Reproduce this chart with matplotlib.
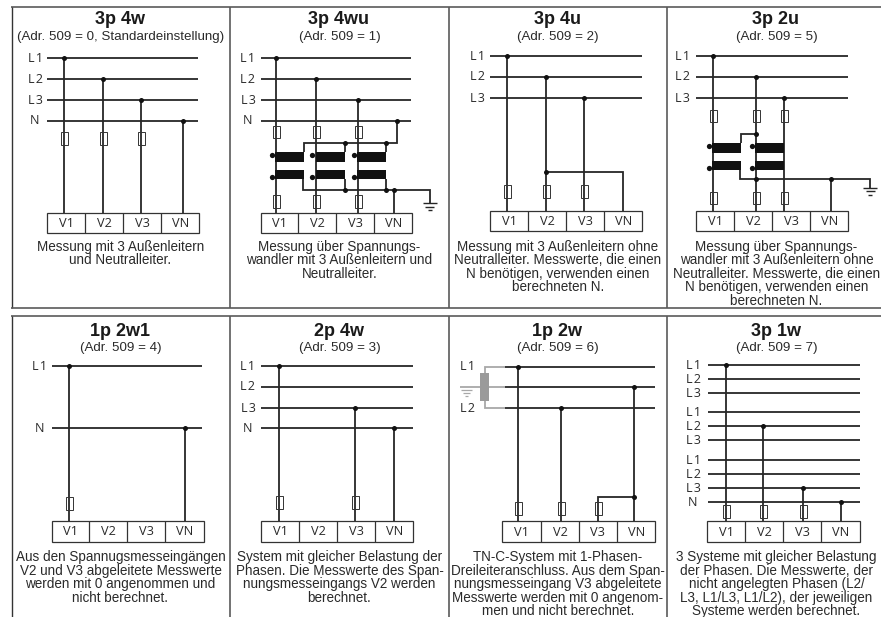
import matplotlib
matplotlib.use("Agg")
import matplotlib.pyplot as plt
from matplotlib.patches import Rectangle

# ---------- content ----------
TITLES = ["3p 4w", "3p 4wu", "3p 4u", "3p 2u", "1p 2w1", "2p 4w", "1p 2w", "3p 1w"]
SUBTITLES = ["(Adr. 509 = 0, Standardeinstellung)", "(Adr. 509 = 1)", "(Adr. 509 = 2)",
             "(Adr. 509 = 5)", "(Adr. 509 = 4)", "(Adr. 509 = 3)", "(Adr. 509 = 6)", "(Adr. 509 = 7)"]
CAPTIONS = [
    ["Messung mit 3 Außenleitern", "und Neutralleiter."],
    ["Messung über Spannungs-", "wandler mit 3 Außenleitern und", "Neutralleiter."],
    ["Messung mit 3 Außenleitern ohne", "Neutralleiter. Messwerte, die einen",
     "N benötigen, verwenden einen", "berechneten N."],
    ["Messung über Spannungs-", "wandler mit 3 Außenleitern ohne", "Neutralleiter. Messwerte, die einen",
     "N benötigen, verwenden einen", "berechneten N."],
    ["Aus den Spannugsmesseingängen", "V2 und V3 abgeleitete Messwerte",
     "werden mit 0 angenommen und", "nicht berechnet."],
    ["System mit gleicher Belastung der", "Phasen. Die Messwerte des Span-",
     "nungsmesseingangs V2 werden", "berechnet."],
    ["TN-C-System mit 1-Phasen-", "Dreileiteranschluss. Aus dem Span-",
     "nungsmesseingang V3 abgeleitete", "Messwerte werden mit 0 angenom-", "men und nicht berechnet."],
    ["3 Systeme mit gleicher Belastung", "der Phasen. Die Messwerte, der",
     "nicht angelegten Phasen (L2/", "L3, L1/L3, L1/L2), der jeweiligen", "Systeme werden berechnet."],
]
BUS_LABELS = [
    ["L1", "L2", "L3", "N"], ["L1", "L2", "L3", "N"], ["L1", "L2", "L3"], ["L1", "L2", "L3"],
    ["L1", "N"], ["L1", "L2", "L3", "N"], ["L1", "", "L2"],
    ["L1", "L2", "L3", "L1", "L2", "L3", "L1", "L2", "L3", "N"],
]
TERMINALS = ["V1", "V2", "V3", "VN"]

# ---------- layout (pixels of the 881x617 sheet) ----------
INK, FRAME, GREY = "#262626", "#5a5a5a", "#a8a8a8"
SANS = "Liberation Sans"
LABEL = "Open Sans"

fig = plt.figure(figsize=(8.81, 6.17), dpi=100, facecolor="white")
ax = fig.add_axes([0, 0, 1, 1])
ax.set_xlim(0, 881)
ax.set_ylim(617, 0)
ax.axis("off")


def wire(xs, ys, color=INK, lw=1.3, z=2):
    ax.plot(xs, ys, color=color, lw=lw, solid_capstyle="butt", solid_joinstyle="miter", zorder=z)


def dot(x, y, ms=3.6):
    ax.plot([x], [y], "o", color="#111111", ms=ms, mew=0, zorder=5)


def fuse(x, y0, h=12.5):
    ax.add_patch(Rectangle((x - 3.5, y0), 7, h, fill=False, ec="#333333", lw=0.7, zorder=4))


def core(x, y, w=29, h=9.5):
    ax.add_patch(Rectangle((x, y), w, h, fc="#111111", ec="none", zorder=4))


def ground(x, y, color=INK, widths=(14, 9, 4), step=3.7, lw=1.0):
    for i, w in enumerate(widths):
        wire([x - w / 2, x + w / 2], [y + i * step] * 2, color=color, lw=lw)


def terminal_box(x0, x1, ytop, ybot, seps):
    ax.add_patch(Rectangle((x0, ytop), x1 - x0, ybot - ytop, fill=True, fc="white",
                           ec="#333333", lw=0.9, zorder=3))
    edges = [x0] + seps + [x1]
    for s in seps:
        wire([s, s], [ytop, ybot], color="#333333", lw=0.9, z=4)
    for i, name in enumerate(TERMINALS):
        ax.text((edges[i] + edges[i + 1]) / 2 + 0.5, (ytop + ybot) / 2 + 0.8, name, ha="center",
                va="center", fontsize=9.2, family=LABEL, color="#2a2a2a", zorder=6)


def buses(idx, x0, x1, ys, lx):
    for name, y in zip(BUS_LABELS[idx], ys):
        wire([x0, x1], [y, y])
        if name:
            ax.text(lx, y + 0.5, name[0] + "\u200a" + name[1:], ha="center", va="center",
                    fontsize=9.0, family=LABEL, color="#2a2a2a")


def header(idx, cx, ty, sy, cy0, step=13.45):
    ax.text(cx, ty + 2, TITLES[idx], ha="center", va="center", fontsize=13, family=SANS,
            fontweight="bold", color="#1a1a1a")
    ax.text(cx + 0.5, sy + 1, SUBTITLES[idx], ha="center", va="center", fontsize=9.6, family=SANS, color="#2a2a2a")
    for i, line in enumerate(CAPTIONS[idx]):
        ax.text(cx + 0.5, cy0 + 1 + i * step, line, ha="center", va="center", fontsize=9.75, family=SANS,
                color="#2a2a2a")


# frames
for ytop, ybot, closed in [(6.5, 308, True), (316, 617, False)]:
    wire([11, 881], [ytop, ytop], color=FRAME, lw=1.2)
    wire([11.5, 11.5], [ytop, ybot], color="#333333", lw=1.0)
    for x in (230, 449, 667):
        wire([x, x], [ytop, ybot], color=FRAME, lw=1.2)
    if closed:
        wire([11, 881], [ybot, ybot], color=FRAME, lw=1.2)

# ---- panel 0: 3p 4w
header(0, 120, 18, 36, 246)
buses(0, 47, 197.5, [58, 79, 99.5, 120.5], 35)
for x, y in zip([64, 103, 141, 183], [58, 79, 99.5, 120.5]):
    wire([x, x], [y, 212.5]); dot(x, y)
for x in (64, 103, 141):
    fuse(x, 132)
terminal_box(46.5, 198.5, 212.5, 233, [85, 123, 161])

# ---- panel 1: 3p 4wu
header(1, 339, 18, 36, 246)
buses(1, 260.5, 411, [58, 79, 99.5, 120.5], 248)
for x, y in zip([276, 316, 358], [58, 79, 99.5]):
    wire([x, x], [y, 212.5]); dot(x, y); fuse(x, 125.5); fuse(x, 195)
dot(396.5, 120.5)
wire([396.5, 396.5, 303.5, 303.5], [120.5, 143, 143, 152])
wire([303, 303, 429.5, 429.5], [179, 189.5, 189.5, 203])
for x in (345, 386):
    wire([x, x], [143, 152]); dot(x, 143)
    wire([x, x], [179, 189.5]); dot(x, 189.5)
wire([393.5, 393.5], [189.5, 212.5]); dot(393.5, 189.5)
for x in (275, 316, 357):
    core(x, 152); core(x, 169.5)
for x in (271.5, 312, 354):
    dot(x, 154.5, 3.8); dot(x, 176.5, 3.8)
ground(429.5, 203)
terminal_box(260.5, 412, 212.5, 233, [298, 336, 374])

# ---- panel 2: 3p 4u
header(2, 557.5, 18, 36, 246)
buses(2, 490, 642, [56, 76.5, 97.5], 477)
for x, y in zip([507, 546, 584], [56, 76.5, 97.5]):
    wire([x, x], [y, 210.5]); dot(x, y); fuse(x, 185)
wire([546, 623, 623], [172, 172, 210.5]); dot(546, 172)
terminal_box(489.5, 642, 210.5, 231, [527.5, 565.5, 603.5])

# ---- panel 3: 3p 2u
header(3, 776, 18, 36, 246)
buses(3, 696, 848, [56, 76.5, 97.5], 682.5)
for x, y in zip([713, 756, 784], [56, 76.5, 97.5]):
    wire([x, x], [y, 210.5]); dot(x, y); fuse(x, 109.5); fuse(x, 191.5)
wire([756, 740.5, 740.5], [133.5, 133.5, 143]); dot(756, 133.5)
wire([740, 740, 870, 870], [170, 178.5, 178.5, 187.5])
dot(756, 178.5); dot(831, 178.5)
wire([831, 831], [178.5, 210.5])
for x in (712, 755):
    core(x, 143); core(x, 160.5)
for x in (708.5, 751.5):
    dot(x, 145.5, 3.8); dot(x, 168, 3.8)
ground(870, 187.5)
terminal_box(696, 848, 210.5, 231, [734, 772, 810])

# ---- panel 4: 1p 2w1
header(4, 120, 329, 347, 556.5)
buses(4, 52, 202, [366, 428], 40)
for x, y in zip([69, 184.5], [366, 428]):
    wire([x, x], [y, 520.5]); dot(x, y)
fuse(69, 497)
terminal_box(51.5, 203.5, 520.5, 541.5, [89, 127, 165])

# ---- panel 5: 2p 4w
header(5, 339, 329, 347, 556.5)
buses(5, 261, 413, [366, 386.5, 407.5, 428], 248)
for x, y in zip([279, 355, 393.5], [366, 407.5, 428]):
    wire([x, x], [y, 520.5]); dot(x, y)
fuse(279, 496); fuse(355, 496)
terminal_box(260.5, 412.5, 520.5, 541.5, [299, 337, 375])

# ---- panel 6: 1p 2w
header(6, 557.5, 329, 347, 556.5)
ys6 = [366.5, 387, 408]
buses(6, 505, 655, ys6, 468)
wire([485, 485, 505], [373, 366.5, 366.5], color=GREY, lw=1.3)
wire([485, 485, 505], [401, 408, 408], color=GREY, lw=1.3)
wire([460, 505], [387, 387], color=GREY, lw=1.3)
ax.add_patch(Rectangle((480, 373), 9, 28, fc="#9a9a9a", ec="none", zorder=4))
ground(466, 389.5, color=GREY, widths=(11, 7, 3), step=3.2, lw=0.9)
for x, y in zip([518, 561, 634], [366.5, 408, 387]):
    wire([x, x], [y, 521]); dot(x, y)
wire([634, 598, 598], [497, 497, 521]); dot(634, 497)
for x in (518, 561, 598):
    fuse(x, 502)
terminal_box(502, 655, 521, 542, [541, 578.5, 616.5])

# ---- panel 7: 3p 1w
header(7, 776, 329, 347, 556.5)
ys7 = [365, 379, 393, 412, 426, 440, 459.5, 473.5, 487.5, 501.5]
buses(7, 708, 860, ys7, 693)
for x, y in zip([726, 763, 803, 841], [ys7[0], ys7[4], ys7[8], ys7[9]]):
    wire([x, x], [y, 521]); dot(x, y)
for x in (726, 763, 803):
    fuse(x, 505)
terminal_box(707, 860, 521, 542, [745, 783, 821])

fig.savefig("out.png", dpi=100, facecolor="white")
